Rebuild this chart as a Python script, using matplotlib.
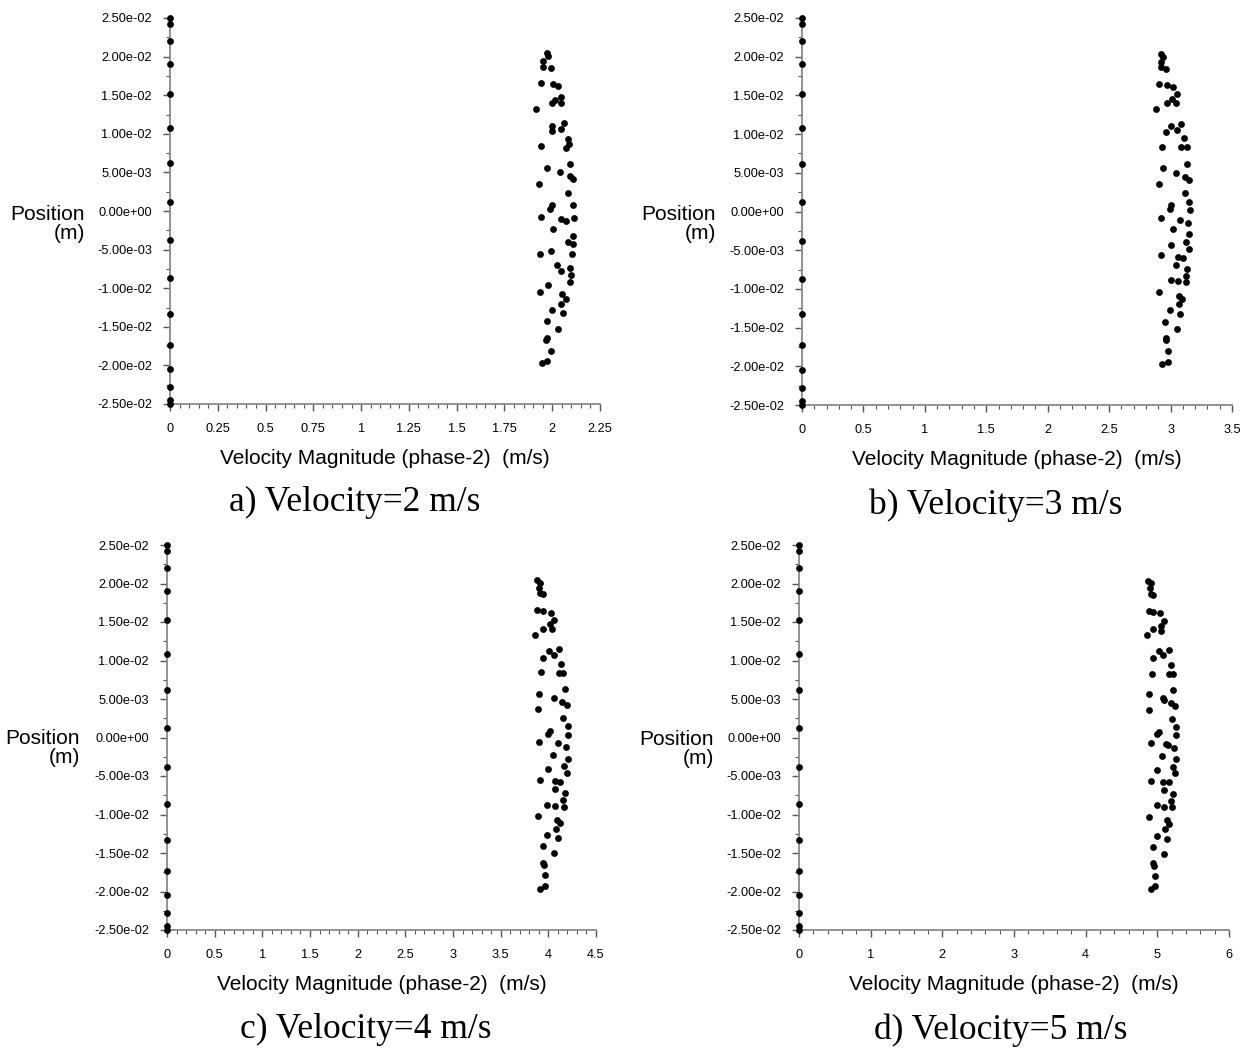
import matplotlib
matplotlib.use("Agg")
import matplotlib.pyplot as plt
import numpy as np

plt.rcParams['font.family'] = ['Liberation Sans', 'DejaVu Sans']

# ---- data ----
wall_y = [0.025, 0.0242, 0.0220, 0.0190, 0.0152, 0.0108, 0.0062, 0.0012,
          -0.0038, -0.0087, -0.0133, -0.0173, -0.0205, -0.0228, -0.0245, -0.025]

a_x = [1.971, 1.978, 1.953, 1.950, 1.992, 1.940, 2.003, 2.032, 2.044, 2.015, 1.997, 2.046,
       1.915, 2.063, 2.000, 2.000, 2.046, 2.084, 2.088, 2.072, 1.943, 2.093, 1.974, 2.041,
       2.093, 2.107, 1.932, 2.081, 1.997, 1.988, 2.107, 1.941, 2.046, 2.072, 2.114, 2.006,
       2.107, 2.081, 2.107, 1.936, 1.992, 2.105, 2.027, 2.046, 2.093, 2.097, 2.093, 1.980,
       1.936, 2.053, 2.074, 2.046, 1.999, 2.056, 1.971, 2.030, 1.971, 1.966, 1.994, 1.973, 1.945]
a_y = [0.02043, 0.02012, 0.01947, 0.01869, 0.01852, 0.01654, 0.01641, 0.01615, 0.01481, 0.01438,
       0.01403, 0.01395, 0.01317, 0.01140, 0.01101, 0.01040, 0.01058, 0.00933, 0.00868, 0.00820,
       0.00842, 0.00609, 0.00553, 0.00501, 0.00457, 0.00415, 0.00350, 0.00229, 0.00078, 0.00026,
       0.00074, -0.00074, -0.00104, -0.00133, -0.00087, -0.00237, -0.00324, -0.00398, -0.00431,
       -0.00561, -0.00518, -0.00561, -0.00699, -0.00781, -0.00738, -0.00829, -0.00920, -0.00958,
       -0.01045, -0.01079, -0.01136, -0.01208, -0.01282, -0.01321, -0.01421, -0.01524, -0.01645,
       -0.01667, -0.01809, -0.01939, -0.01969]

b_x = [2.920, 2.936, 2.924, 2.920, 2.963, 2.908, 2.968, 3.017, 3.050, 3.014, 2.968, 3.044,
       2.881, 3.082, 3.001, 3.055, 2.963, 3.109, 2.933, 3.082, 3.131, 3.136, 2.936, 3.044,
       3.117, 3.150, 2.903, 3.115, 3.152, 3.003, 2.995, 3.158, 2.920, 3.079, 3.142, 3.022,
       3.152, 3.123, 3.152, 3.001, 2.920, 3.060, 3.104, 3.044, 3.131, 3.123, 3.128, 3.001,
       3.060, 2.908, 3.071, 3.095, 3.068, 2.995, 3.079, 2.952, 3.050, 2.963, 2.963, 2.981,
       2.979, 2.933]
b_y = [0.02035, 0.02000, 0.01935, 0.01871, 0.01845, 0.01643, 0.01634, 0.01605, 0.01514, 0.01450,
       0.01406, 0.01398, 0.01320, 0.01130, 0.01105, 0.01057, 0.01027, 0.00950, 0.00829, 0.00829,
       0.00829, 0.00614, 0.00562, 0.00494, 0.00450, 0.00407, 0.00355, 0.00235, 0.00123, 0.00084,
       0.00032, 0.00015, -0.00080, -0.00106, -0.00149, -0.00230, -0.00295, -0.00390, -0.00481,
       -0.00433, -0.00566, -0.00584, -0.00597, -0.00695, -0.00743, -0.00830, -0.00907, -0.00889,
       -0.00898, -0.01036, -0.01088, -0.01130, -0.01199, -0.01273, -0.01324, -0.01424, -0.01514,
       -0.01634, -0.01664, -0.01798, -0.01941, -0.01970]

c_x = [3.884, 3.913, 3.905, 3.913, 3.947, 3.884, 3.947, 4.028, 4.063, 4.018, 4.042, 3.947,
       3.863, 4.007, 4.063, 4.115, 3.941, 4.136, 3.920, 4.109, 4.157, 4.178, 3.905, 4.060,
       4.144, 4.193, 3.889, 4.157, 4.203, 4.018, 3.993, 4.203, 3.905, 4.105, 4.182, 4.046,
       4.203, 4.165, 4.193, 3.993, 3.913, 4.070, 4.126, 4.070, 4.175, 4.157, 4.165, 3.983,
       4.070, 3.889, 4.094, 4.122, 4.077, 3.983, 4.102, 3.941, 4.063, 3.941, 3.952, 3.965,
       3.968, 3.913]
c_y = [0.02045, 0.02010, 0.01945, 0.01873, 0.01860, 0.01656, 0.01643, 0.01621, 0.01526, 0.01470,
       0.01405, 0.01413, 0.01335, 0.01123, 0.01071, 0.01145, 0.01036, 0.00958, 0.00847, 0.00842,
       0.00842, 0.00634, 0.00569, 0.00509, 0.00461, 0.00426, 0.00370, 0.00253, 0.00145, 0.00084,
       0.00045, 0.00032, -0.00058, -0.00075, -0.00127, -0.00227, -0.00275, -0.00370, -0.00457,
       -0.00413, -0.00552, -0.00561, -0.00578, -0.00673, -0.00717, -0.00812, -0.00899, -0.00873,
       -0.00886, -0.01020, -0.01071, -0.01114, -0.01184, -0.01262, -0.01309, -0.01409, -0.01504,
       -0.01626, -0.01656, -0.01790, -0.01925, -0.01964]

d_x = [4.870, 4.907, 4.897, 4.907, 4.944, 4.879, 4.944, 5.037, 5.093, 5.055, 5.055, 4.944,
       4.851, 5.019, 5.083, 5.158, 4.935, 5.186, 4.925, 5.158, 5.223, 5.223, 4.879, 5.075,
       5.093, 5.186, 5.242, 4.884, 5.204, 5.260, 5.027, 4.991, 5.260, 4.907, 5.117, 5.153,
       5.228, 5.069, 5.256, 5.214, 4.991, 5.246, 4.911, 5.083, 5.163, 5.097, 5.214, 5.190,
       5.200, 4.991, 5.089, 4.884, 5.130, 5.167, 5.103, 4.991, 5.135, 4.944, 5.089, 4.935,
       4.953, 4.967, 4.967, 4.907]
d_y = [0.02036, 0.02010, 0.01938, 0.01864, 0.01847, 0.01647, 0.01634, 0.01613, 0.01509, 0.01452,
       0.01387, 0.01405, 0.01327, 0.01120, 0.01068, 0.01136, 0.01029, 0.00945, 0.00829, 0.00829,
       0.00829, 0.00617, 0.00561, 0.00509, 0.00487, 0.00444, 0.00413, 0.00357, 0.00244, 0.00133,
       0.00075, 0.00045, 0.00032, -0.00068, -0.00088, -0.00097, -0.00140, -0.00236, -0.00283,
       -0.00379, -0.00422, -0.00465, -0.00561, -0.00574, -0.00582, -0.00686, -0.00734, -0.00825,
       -0.00907, -0.00881, -0.00899, -0.01029, -0.01071, -0.01127, -0.01192, -0.01275, -0.01314,
       -0.01422, -0.01513, -0.01634, -0.01665, -0.01799, -0.01929, -0.01971]

a_xticks = [0, 0.25, 0.5, 0.75, 1, 1.25, 1.5, 1.75, 2, 2.25]
a_xlabels = ["0", "0.25", "0.5", "0.75", "1", "1.25", "1.5", "1.75", "2", "2.25"]
b_xticks = [0, 0.5, 1, 1.5, 2, 2.5, 3, 3.5]
b_xlabels = ["0", "0.5", "1", "1.5", "2", "2.5", "3", "3.5"]
c_xticks = [0, 0.5, 1, 1.5, 2, 2.5, 3, 3.5, 4, 4.5]
c_xlabels = ["0", "0.5", "1", "1.5", "2", "2.5", "3", "3.5", "4", "4.5"]
d_xticks = [0, 1, 2, 3, 4, 5, 6]
d_xlabels = ["0", "1", "2", "3", "4", "5", "6"]
yticks = [0.025, 0.02, 0.015, 0.01, 0.005, 0.0, -0.005, -0.01, -0.015, -0.02, -0.025]
ylabels = ["2.50e-02", "2.00e-02", "1.50e-02", "1.00e-02", "5.00e-03", "0.00e+00",
           "-5.00e-03", "-1.00e-02", "-1.50e-02", "-2.00e-02", "-2.50e-02"]
titles = ["a) Velocity=2 m/s", "b) Velocity=3 m/s", "c) Velocity=4 m/s", "d) Velocity=5 m/s"]
xlabel = "Velocity Magnitude (phase-2)  (m/s)"
ylabel = "Position\n(m)"

W, H = 1251, 1053
fig = plt.figure(figsize=(W / 100, H / 100), dpi=100)

# panel boxes in pixels: left, right, top, bottom
boxes = [(170, 600, 18, 404), (802, 1232, 18, 405), (167, 596, 545, 930), (799, 1229, 545, 930)]
panels = [(a_x, a_y, a_xticks, a_xlabels), (b_x, b_y, b_xticks, b_xlabels),
          (c_x, c_y, c_xticks, c_xlabels), (d_x, d_y, d_xticks, d_xlabels)]
title_pos = [(355, 502), (996, 505), (366, 1029), (1001, 1030)]
ylab_pos = [(85, 224), (716, 224), (80, 748), (714, 749)]

grey = '#8a8a8a'
for (l, r, t, b), (xs, ys, xt, xl), tp, yp, ttl in zip(boxes, panels, title_pos, ylab_pos, titles):
    ax = fig.add_axes([l / W, 1 - b / H, (r - l) / W, (b - t) / H])
    ax.scatter(xs, ys, s=24, color='black', clip_on=False, zorder=3, linewidths=0)
    ax.scatter([0] * len(wall_y), wall_y, s=24, color='black', clip_on=False, zorder=3, linewidths=0)
    ax.set_xlim(xt[0], xt[-1])
    ax.set_ylim(-0.025, 0.025)
    ax.set_xticks(xt)
    ax.set_xticklabels(xl)
    step = xt[1] - xt[0]
    ax.set_xticks(np.arange(xt[0], xt[-1] + 1e-9, step / 5), minor=True)
    ax.set_yticks(yticks)
    ax.set_yticklabels(ylabels)
    ax.set_yticks(np.arange(-0.025, 0.0251, 0.0025), minor=True)
    for s in ['top', 'right']:
        ax.spines[s].set_visible(False)
    for s in ['left', 'bottom']:
        ax.spines[s].set_color(grey)
        ax.spines[s].set_linewidth(1.3)
    ax.tick_params(which='major', length=5, width=1.0, color='#555555', labelsize=9.2)
    ax.tick_params(which='minor', length=3, width=0.8, color='#555555')
    ax.tick_params(axis='y', which='major', pad=8)
    ax.tick_params(axis='x', which='major', pad=9)
    ax.set_xlabel(xlabel, fontsize=15, labelpad=10)
    fig.text(yp[0] / W, 1 - yp[1] / H, ylabel, ha='right', va='center', fontsize=15,
             multialignment='right', linespacing=1.0)
    fig.text(tp[0] / W, 1 - tp[1] / H, ttl, ha='center', va='center', fontsize=25.5,
             family=['Liberation Serif', 'DejaVu Serif'])

fig.savefig('out.png', dpi=100)
